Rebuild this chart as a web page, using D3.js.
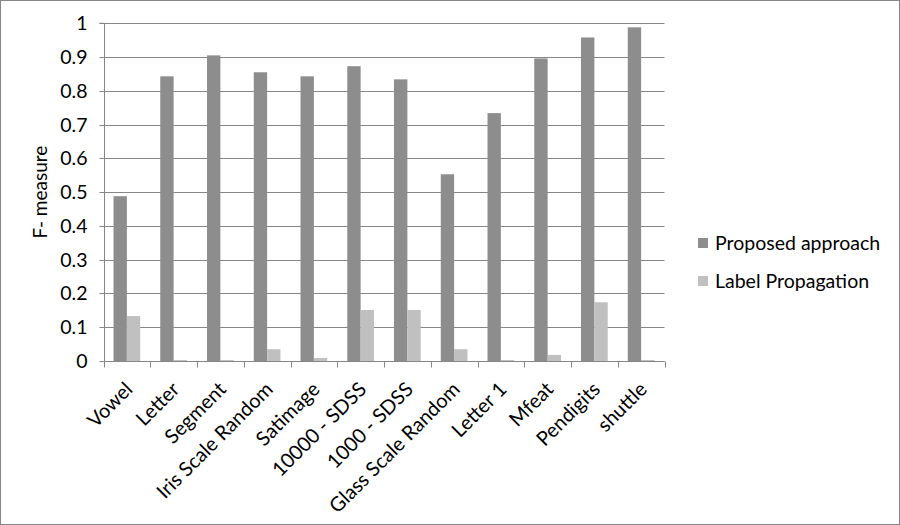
<!DOCTYPE html>
<html><head><meta charset="utf-8">
<script src="https://cdn.jsdelivr.net/npm/d3@7"></script>
<style>body{margin:0;background:#fff}svg{display:block}</style>
</head><body>
<svg id="c" width="900" height="525"></svg>
<script>
const categories = ["Vowel","Letter","Segment","Iris Scale Random","Satimage","10000 - SDSS","1000 - SDSS","Glass Scale Random","Letter 1","Mfeat","Pendigits","shuttle"];
const proposed = [0.488,0.843,0.905,0.855,0.843,0.873,0.834,0.553,0.734,0.896,0.958,0.988];
const labelProp = [0.133,0.003,0.003,0.035,0.009,0.151,0.151,0.035,0.003,0.018,0.174,0.003];
const seriesNames = ["Proposed approach","Label Propagation"];
const yTicks = [0,0.1,0.2,0.3,0.4,0.5,0.6,0.7,0.8,0.9,1];
const yTickLabels = ["0","0.1","0.2","0.3","0.4","0.5","0.6","0.7","0.8","0.9","1"];
const colors = ["#8d8d8d","#c0c0c0"];

const svg = d3.select("#c");
const font = "Lato, 'Open Sans', sans-serif";
svg.append("rect").attr("x",0.5).attr("y",0.5).attr("width",899).attr("height",524)
  .attr("fill","#fff").attr("stroke","#868686");

const L=103.5, R=664.5, T=23.3, B=361;
const x = d3.scaleBand().domain(categories).range([L,R]).paddingInner(0).paddingOuter(0);
const y = d3.scaleLinear().domain([0,1]).range([B,T]);
const sub = d3.scaleBand().domain([0,1]).range([0,x.bandwidth()]).paddingInner(0).paddingOuter(0.75);

// grid
svg.append("g").selectAll("line").data(yTicks).join("line")
  .attr("x1",L).attr("x2",R).attr("y1",d=>Math.round(y(d))+0.5).attr("y2",d=>Math.round(y(d))+0.5)
  .attr("stroke","#868686").attr("stroke-width",1);

// bars
const series=[proposed,labelProp];
series.forEach((vals,si)=>{
  svg.append("g").selectAll("rect").data(vals).join("rect")
    .attr("x",(d,i)=>x(categories[i])+sub(si))
    .attr("width",sub.bandwidth())
    .attr("y",d=>y(d)).attr("height",d=>B-y(d))
    .attr("fill",colors[si]);
});

// y axis
const yAxis = d3.axisLeft(y).tickValues(yTicks).tickFormat((d,i)=>yTickLabels[i]).tickSize(5).tickPadding(12);
const ga = svg.append("g").attr("transform",`translate(${Math.round(L)+0.5},0)`).call(yAxis);
ga.select(".domain").attr("stroke","#868686").attr("d",`M-5,${T}H0V${B}`);
ga.selectAll(".tick line").attr("stroke","#868686");
ga.selectAll(".tick text").attr("font-family",font).attr("font-size",19.5).attr("fill","#000");
ga.selectAll(".tick").attr("transform",d=>`translate(0,${Math.round(y(d))+0.5})`);

// x axis
const xAxis = d3.axisBottom(x).tickSize(0).tickFormat("");
const gx = svg.append("g").attr("transform",`translate(0,${B+0.5})`).call(xAxis);
gx.select(".domain").attr("stroke","#868686").attr("d",`M${L},0H${R}`);
gx.selectAll(".tick").remove();
const edges = categories.map(c=>x(c)).concat([R]);
gx.selectAll("line.tk").data(edges).join("line").attr("class","tk")
  .attr("x1",d=>Math.round(d)+0.5).attr("x2",d=>Math.round(d)+0.5).attr("y1",0).attr("y2",6)
  .attr("stroke","#868686");
gx.selectAll("text.lb").data(categories).join("text").attr("class","lb")
  .attr("transform",d=>`translate(${x(d)+x.bandwidth()/2-3},19) rotate(-45)`)
  .attr("text-anchor","end").attr("dy","0.71em")
  .attr("font-family",font).attr("font-size",20).attr("fill","#000").text(d=>d);

// y title
svg.append("text").attr("transform",`translate(47,${(T+B)/2+0}) rotate(-90)`)
  .attr("text-anchor","middle").attr("font-family",font).attr("font-size",19).text("F- measure");

// legend
const lg = svg.append("g");
seriesNames.forEach((n,i)=>{
  const yy = 243 + i*38;
  lg.append("rect").attr("x",698).attr("y",yy-5).attr("width",10).attr("height",10).attr("fill",colors[i]);
  lg.append("text").attr("x",715).attr("y",yy).attr("dy","0.35em")
    .attr("font-family",font).attr("font-size",19.5).text(n);
});
</script>
</body></html>
